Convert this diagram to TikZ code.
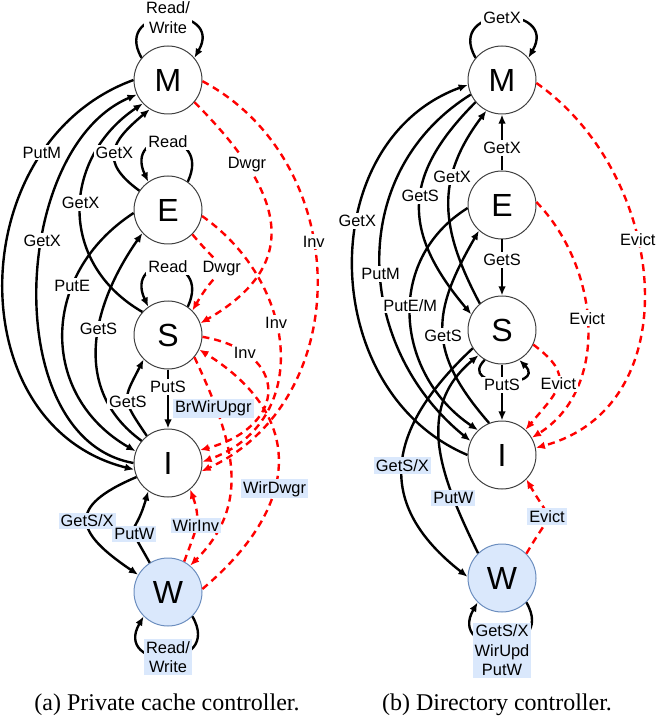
\documentclass[tikz,border=0pt]{standalone}
\usepackage{fontspec}
\setmainfont{Liberation Serif}
\newfontfamily\lblfont{Liberation Sans}
\usepackage{xcolor}
\usetikzlibrary{arrows.meta}
\definecolor{wblue}{HTML}{DAE8FC}
\definecolor{wline}{HTML}{6C8EBF}
\tikzset{>={Latex[length=4.6pt,width=3.8pt]}}

\begin{document}
\begin{tikzpicture}[x=0.5pt,y=0.5pt]

        % st = state, wst = the W state, lbl/blbl = transition labels
        \tikzstyle{st}=[circle, draw=black!75, line width=0.5pt, minimum size=34pt, inner sep=0pt, font=\lblfont\fontsize{16}{16}\selectfont]
        \tikzstyle{wst}=[st, fill=wblue, draw=wline]
        \tikzstyle{lbl}=[fill=white, text=black, inner sep=1pt, align=center, font=\lblfont\fontsize{8.2}{9.8}\selectfont]
        \tikzstyle{blbl}=[lbl, fill=wblue]
        \tikzstyle{tr}=[black, ->, line width=1.2pt]
        \tikzstyle{rmt}=[red, ->, line width=1.2pt, dash pattern=on 3.5pt off 2.5pt]
        \useasboundingbox (0,0) rectangle (657,-721);

        % (a) private cache controller
        \node[st] (Ma) at (168,-80) {M};
        \node[st] (Ea) at (168,-210) {E};
        \node[st] (Sa) at (168,-335) {S};
        \node[st] (Ia) at (168,-463) {I};
        \node[wst] (Wa) at (168,-592) {W};

        \draw[rmt] (Ma.-40) to[out=-45,in=30,looseness=1.42] node[lbl,pos=0.25]{Dwgr} (Sa.20);
        \draw[rmt] (Ea.-45) to[out=-50,in=60,looseness=2.3] node[lbl,pos=0.45]{Dwgr} (Sa.45);
        \draw[rmt] (Sa.-3) to[out=-10,in=15,looseness=2.04] node[lbl,pos=0.2]{Inv} (Ia.22);
        \draw[rmt] (Ea.-10) to[out=-35,in=20,looseness=1.22] node[lbl,pos=0.41]{Inv} (Ia.2);
        \draw[rmt] (Ma.-2) to[out=-28,in=25,looseness=1.12] node[lbl,pos=0.42]{Inv} (Ia.-14);
        \draw[rmt] (Sa.-40) to[out=-65,in=45,looseness=1.1] node[blbl,pos=0.22,xshift=-1.5pt]{BrWirUpgr} (Wa.50);
        \draw[rmt] (Wa.5) to[out=40,in=-32,looseness=1.36] node[blbl,pos=0.4]{WirDwgr} (Sa.-25);
        \draw[rmt] (Wa.62) to[out=70,in=-70,looseness=1.2] node[blbl]{WirInv} (Ia.-50);

        \draw[tr] (Ma.180) to[out=200,in=166,looseness=1.2] node[lbl,pos=0.23]{PutM} (Ia.191);
        \draw[tr] (Ia.180) to[out=170,in=203,looseness=0.95] node[lbl,pos=0.6]{GetX} (Ma.205);
        \draw[tr] (Ea.185) to[out=213,in=150,looseness=1.2] node[lbl,pos=0.32]{PutE} (Ia.160);
        \draw[tr] (Sa.138) to[out=150,in=214,looseness=1.2] node[lbl,pos=0.53]{GetX} (Ma.223);
        \draw[tr] (Ia.140) to[out=144,in=235,looseness=1.08] node[lbl,pos=0.57]{GetS} (Ea.222);
        \draw[tr] (Ea.146) to[out=144,in=220,looseness=1.57] node[lbl,pos=0.47]{GetX} (Ma.238);
        \draw[tr] (Ia.128) to[out=124,in=243,looseness=1.54] node[lbl,pos=0.45]{GetS} (Sa.225);
        \draw[tr] (Sa) -- node[lbl,pos=0.3]{PutS} (Ia);
        \draw[tr] (Ia.204) to[out=203,in=146,looseness=2] node[blbl]{GetS/X} (Wa.150);
        \draw[tr] (Wa.122) to[out=119,in=254,looseness=1.9] node[blbl,pos=0.35]{PutW} (Ia.235);

        \draw[tr] (Ma.140) to[out=120,in=60,looseness=3] node[lbl]{Read/\\Write} (Ma.40);
        \draw[tr] (Ea.55) to[out=65,in=115,looseness=3.8] node[lbl]{Read} (Ea.125);
        \draw[tr] (Sa.55) to[out=65,in=115,looseness=3.8] node[lbl]{Read} (Sa.125);
        \draw[tr] (Wa.-45) to[out=-60,in=-120,looseness=3.3] node[blbl]{Read/\\Write} (Wa.-135);

        % (b) directory controller
        \node[st] (Mb) at (502,-80) {M};
        \node[st] (Eb) at (502,-205) {E};
        \node[st] (Sb) at (502,-330) {S};
        \node[st] (Ib) at (502,-455) {I};
        \node[wst] (Wb) at (502,-578) {W};

        \draw[rmt] (Mb.-5) to[out=-35,in=15,looseness=1.13] node[lbl,pos=0.4]{Evict} (Ib.12);
        \draw[rmt] (Eb.5) to[out=-46,in=32,looseness=1.0] node[lbl,pos=0.47]{Evict} (Ib.30);
        \draw[rmt] (Sb.-25) to[out=-37,in=50,looseness=1.6] node[lbl,pos=0.5]{Evict} (Ib.47);
        \draw[rmt] (Wb.45) to[out=60,in=-60,looseness=1.9] node[blbl]{Evict} (Ib.-45);

        \draw[tr] (Ib.180) to[out=157,in=200,looseness=1.14] node[lbl,pos=0.6]{GetX} (Mb.188);
        \draw[tr] (Mb.205) to[out=212,in=141,looseness=1.1] node[lbl,pos=0.53]{PutM} (Ib.156);
        \draw[tr] (Mb.220) to[out=225,in=130,looseness=1.28] node[lbl,pos=0.45]{GetS} (Sb.153);
        \draw[tr] (Sb.130) to[out=118,in=233,looseness=1.13] node[lbl,pos=0.65]{GetX} (Mb.243);
        \draw[tr] (Eb.185) to[out=212,in=146,looseness=1.14] node[lbl,pos=0.45]{PutE/M} (Ib.134);
        \draw[tr] (Ib.112) to[out=131,in=240,looseness=1.26] node[lbl,pos=0.47]{GetS} (Eb.228);
        \draw[tr] (Sb.212) to[out=223,in=142,looseness=1.33] node[blbl]{GetS/X} (Wb.178);
        \draw[tr] (Wb.134) to[out=116,in=220,looseness=1.09] node[blbl,pos=0.25]{PutW} (Sb.227);

        \draw[tr] (Mb.140) to[out=120,in=60,looseness=3] node[lbl]{GetX} (Mb.40);
        \draw[tr] (Sb.-120) to[out=-135,in=-45,looseness=3] (Sb.-60);
        \draw[tr] (Eb) -- node[lbl,pos=0.4]{GetX} (Mb);
        \draw[tr] (Eb) -- node[lbl,pos=0.37]{GetS} (Sb);
        \draw[tr] (Sb) -- node[lbl,pos=0.37]{PutS} (Ib);
        \draw[tr] (Wb.-45) to[out=-60,in=-120,looseness=3.3] node[blbl,yshift=-3.5pt]{GetS/X\\WirUpd\\PutW} (Wb.-135);

        % captions
        \node[font=\fontsize{12}{14}\selectfont] (capa) at (167,-705) {(a) Private cache controller.};
        \node[font=\fontsize{12}{14}\selectfont] (capb) at (497,-705) {(b) Directory controller.};
\end{tikzpicture}
\end{document}
